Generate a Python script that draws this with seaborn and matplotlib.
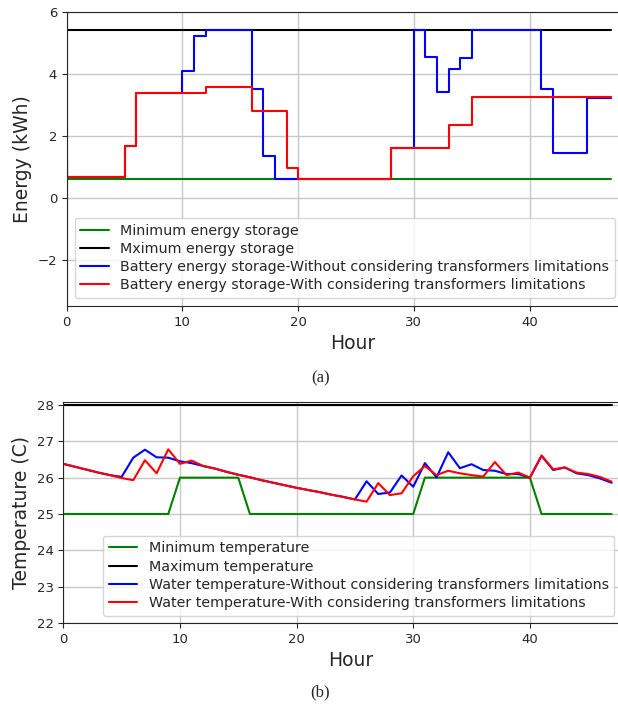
import numpy as np
import pandas as pd
import matplotlib
matplotlib.use("Agg")
import matplotlib.pyplot as plt
import seaborn as sns

# -----------------------------
# Data
# -----------------------------
hours = list(range(48))

# (a) energy, drawn as steps (value i held over (i-1, i])
energy_min = [0.6, 0.6, 0.6, 0.6, 0.6, 0.6, 0.6, 0.6, 0.6, 0.6, 0.6, 0.6,
              0.6, 0.6, 0.6, 0.6, 0.6, 0.6, 0.6, 0.6, 0.6, 0.6, 0.6, 0.6,
              0.6, 0.6, 0.6, 0.6, 0.6, 0.6, 0.6, 0.6, 0.6, 0.6, 0.6, 0.6,
              0.6, 0.6, 0.6, 0.6, 0.6, 0.6, 0.6, 0.6, 0.6, 0.6, 0.6, 0.6]
energy_max = [5.4, 5.4, 5.4, 5.4, 5.4, 5.4, 5.4, 5.4, 5.4, 5.4, 5.4, 5.4,
              5.4, 5.4, 5.4, 5.4, 5.4, 5.4, 5.4, 5.4, 5.4, 5.4, 5.4, 5.4,
              5.4, 5.4, 5.4, 5.4, 5.4, 5.4, 5.4, 5.4, 5.4, 5.4, 5.4, 5.4,
              5.4, 5.4, 5.4, 5.4, 5.4, 5.4, 5.4, 5.4, 5.4, 5.4, 5.4, 5.4]
energy_without = [1.2, 0.68, 0.68, 0.68, 0.68, 0.68, 1.65, 3.37, 3.37, 3.37, 3.37, 4.1,
                  5.2, 5.4, 5.4, 5.4, 5.4, 3.52, 1.35, 0.6, 0.6, 0.6, 0.6, 0.6,
                  0.6, 0.6, 0.6, 0.6, 0.6, 1.6, 1.6, 5.4, 4.55, 3.4, 4.15, 4.5,
                  5.4, 5.4, 5.4, 5.4, 5.4, 5.4, 3.5, 1.45, 1.45, 1.45, 3.22, 3.22]
energy_with = [1.2, 0.68, 0.68, 0.68, 0.68, 0.68, 1.65, 3.37, 3.37, 3.37, 3.37, 3.37,
               3.37, 3.58, 3.58, 3.58, 3.58, 2.78, 2.78, 2.78, 0.95, 0.6, 0.6, 0.6,
               0.6, 0.6, 0.6, 0.6, 0.6, 1.6, 1.6, 1.6, 1.6, 1.6, 2.35, 2.35,
               3.25, 3.25, 3.25, 3.25, 3.25, 3.25, 3.25, 3.25, 3.25, 3.25, 3.25, 3.25]

# (b) water temperature
temp_min = [25, 25, 25, 25, 25, 25, 25, 25, 25, 25, 26, 26,
            26, 26, 26, 26, 25, 25, 25, 25, 25, 25, 25, 25,
            25, 25, 25, 25, 25, 25, 25, 26, 26, 26, 26, 26,
            26, 26, 26, 26, 26, 25, 25, 25, 25, 25, 25, 25]
temp_max = [28, 28, 28, 28, 28, 28, 28, 28, 28, 28, 28, 28,
            28, 28, 28, 28, 28, 28, 28, 28, 28, 28, 28, 28,
            28, 28, 28, 28, 28, 28, 28, 28, 28, 28, 28, 28,
            28, 28, 28, 28, 28, 28, 28, 28, 28, 28, 28, 28]
temp_without = [26.38, 26.3, 26.22, 26.14, 26.07, 26.02, 26.55, 26.77, 26.56, 26.55, 26.45, 26.4,
                26.32, 26.25, 26.16, 26.08, 26.01, 25.93, 25.86, 25.79, 25.72, 25.66, 25.6, 25.53,
                25.47, 25.4, 25.9, 25.55, 25.59, 26.06, 25.75, 26.4, 26.01, 26.7, 26.26, 26.37,
                26.21, 26.19, 26.1, 26.1, 26.0, 26.6, 26.21, 26.28, 26.12, 26.07, 25.98, 25.86]
temp_with = [26.38, 26.3, 26.22, 26.14, 26.07, 25.99, 25.93, 26.48, 26.12, 26.78, 26.38, 26.47,
             26.32, 26.25, 26.16, 26.08, 26.01, 25.93, 25.86, 25.79, 25.72, 25.66, 25.6, 25.53,
             25.47, 25.4, 25.34, 25.85, 25.52, 25.57, 26.04, 26.32, 26.07, 26.19, 26.12, 26.07,
             26.03, 26.43, 26.07, 26.14, 26.0, 26.61, 26.23, 26.28, 26.14, 26.1, 26.02, 25.89]

# -----------------------------
# Figure
# -----------------------------
sns.set_style("ticks")
plt.rcParams['font.family'] = ['DejaVu Sans']

fig = plt.figure(figsize=(6.18, 7.09), dpi=100)
ax1 = fig.add_axes([0.108, 0.5684, 0.924, 0.4151])
ax2 = fig.add_axes([0.1024, 0.1213, 0.9315, 0.3121])

lw = 1.5
sns.lineplot(x=hours, y=energy_min, ax=ax1, color='green', lw=lw, drawstyle='steps-pre',
             label='Minimum energy storage')
sns.lineplot(x=hours, y=energy_max, ax=ax1, color='black', lw=lw, drawstyle='steps-pre',
             label='Mximum energy storage')
sns.lineplot(x=hours, y=energy_without, ax=ax1, color='blue', lw=lw, drawstyle='steps-pre',
             label='Battery energy storage-Without considering transformers limitations')
sns.lineplot(x=hours, y=energy_with, ax=ax1, color='red', lw=lw, drawstyle='steps-pre',
             label='Battery energy storage-With considering transformers limitations')
ax1.set_xlim(0, 49.35)
ax1.set_ylim(-3.5, 6)
ax1.set_yticks([-2, 0, 2, 4, 6])
ax1.set_xticks([0, 10, 20, 30, 40])
ax1.set_xlabel('Hour', fontsize=13.5)
ax1.set_ylabel('Energy (kWh)', fontsize=13.5)
ax1.grid(True, color='#c8c8c8', lw=1.0)
ax1.legend(loc='lower left', fontsize=10.3, borderaxespad=0.55, labelspacing=0.3)

sns.lineplot(x=hours, y=temp_min, ax=ax2, color='green', lw=lw,
             label='Minimum temperature')
sns.lineplot(x=hours, y=temp_max, ax=ax2, color='black', lw=lw,
             label='Maximum temperature')
sns.lineplot(x=hours, y=temp_without, ax=ax2, color='blue', lw=lw,
             label='Water temperature-Without considering transformers limitations')
sns.lineplot(x=hours, y=temp_with, ax=ax2, color='red', lw=lw,
             label='Water temperature-With considering transformers limitations')
ax2.set_xlim(0, 49.35)
ax2.set_ylim(22, 28.09)
ax2.set_yticks([22, 23, 24, 25, 26, 27, 28])
ax2.set_xticks([0, 10, 20, 30, 40])
ax2.set_xlabel('Hour', fontsize=13.5)
ax2.set_ylabel('Temperature (C)', fontsize=13.5)
ax2.grid(True, color='#c8c8c8', lw=1.0)
ax2.legend(loc='lower center', bbox_to_anchor=(0.513, 0.0), fontsize=10.3,
           borderaxespad=0.5, labelspacing=0.3)

for ax in (ax1, ax2):
    ax.tick_params(labelsize=9.5)

fig.text(0.518, 0.467, '(a)', ha='center', va='center', fontsize=12, family='Liberation Serif')
fig.text(0.518, 0.024, '(b)', ha='center', va='center', fontsize=12, family='Liberation Serif')

plt.savefig('out.png', dpi=100)
